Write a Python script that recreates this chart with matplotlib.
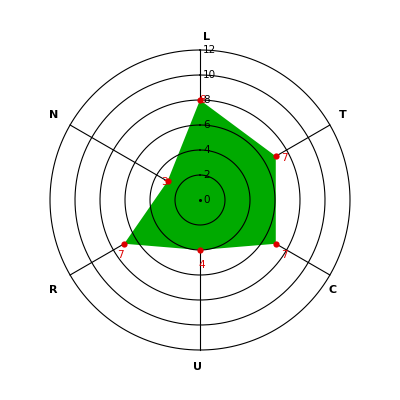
import numpy as np
import matplotlib
matplotlib.use("Agg")
import matplotlib.pyplot as plt

categories = ["L", "T", "C", "U", "R", "N"]
values = [8, 7, 7, 4, 7, 3]
radial_ticks = [0, 2, 4, 6, 8, 10, 12]
rmax = 12

# label nudges in pixels (style only)
cat_offsets = [(7, 0), (2, 4), (-8, -9), (-2, -5), (-6, -9), (-6, 4)]
val_offsets = [(3, 0), (9, -2), (9, -11), (2, -15), (-4, -11), (-3, -1)]

fig = plt.figure(figsize=(4, 4), dpi=100)
fig.patch.set_facecolor("white")
ax = fig.add_axes([0.125, 0.125, 0.75, 0.75], projection="polar")
ax.set_theta_zero_location("N")
ax.set_theta_direction(-1)
ax.set_ylim(0, rmax)
ax.grid(False)
ax.spines["polar"].set_visible(False)
ax.set_xticks([])
ax.set_yticks([])
ax.set_facecolor("none")

n = len(categories)
angles = np.arange(n) * 2 * np.pi / n

# spokes
for a in angles:
    ax.plot([a, a], [0, rmax], color="black", lw=0.8, zorder=1, clip_on=False)

# fill
ang_c = np.concatenate([angles, angles[:1]])
val_c = np.concatenate([values, values[:1]])
ax.fill(ang_c, val_c, color="#00aa00", lw=0, zorder=2)

# circles
th = np.linspace(0, 2 * np.pi, 400)
for r in radial_ticks[1:]:
    ax.plot(th, np.full_like(th, r), color="black", lw=0.8, zorder=3, clip_on=False)

# radial tick labels
for r in radial_ticks:
    ax.annotate(str(r), xy=(0, r), xytext=(3, 0), textcoords="offset pixels",
                ha="left", va="center", fontsize=7.5, color="black", zorder=6)
ax.plot([0], [0], marker="o", ms=1.2, color="black", zorder=5)

# markers
ax.plot(angles, values, "o", color="#dd0000", ms=4.5, mec="none", zorder=4,
        clip_on=False)

# value labels
for a, v, (dx, dy) in zip(angles, values, val_offsets):
    ax.annotate(str(v), xy=(a, v), xytext=(dx, dy), textcoords="offset pixels",
                ha="center", va="center", fontsize=7.5, color="#dd0000", zorder=5)

# category labels
for a, c, (dx, dy) in zip(angles, categories, cat_offsets):
    ax.annotate(c, xy=(a, 13), xytext=(dx, dy), textcoords="offset pixels",
                ha="center", va="center", fontsize=8, fontweight="bold",
                color="black", annotation_clip=False)

fig.savefig("out.png", dpi=100)
